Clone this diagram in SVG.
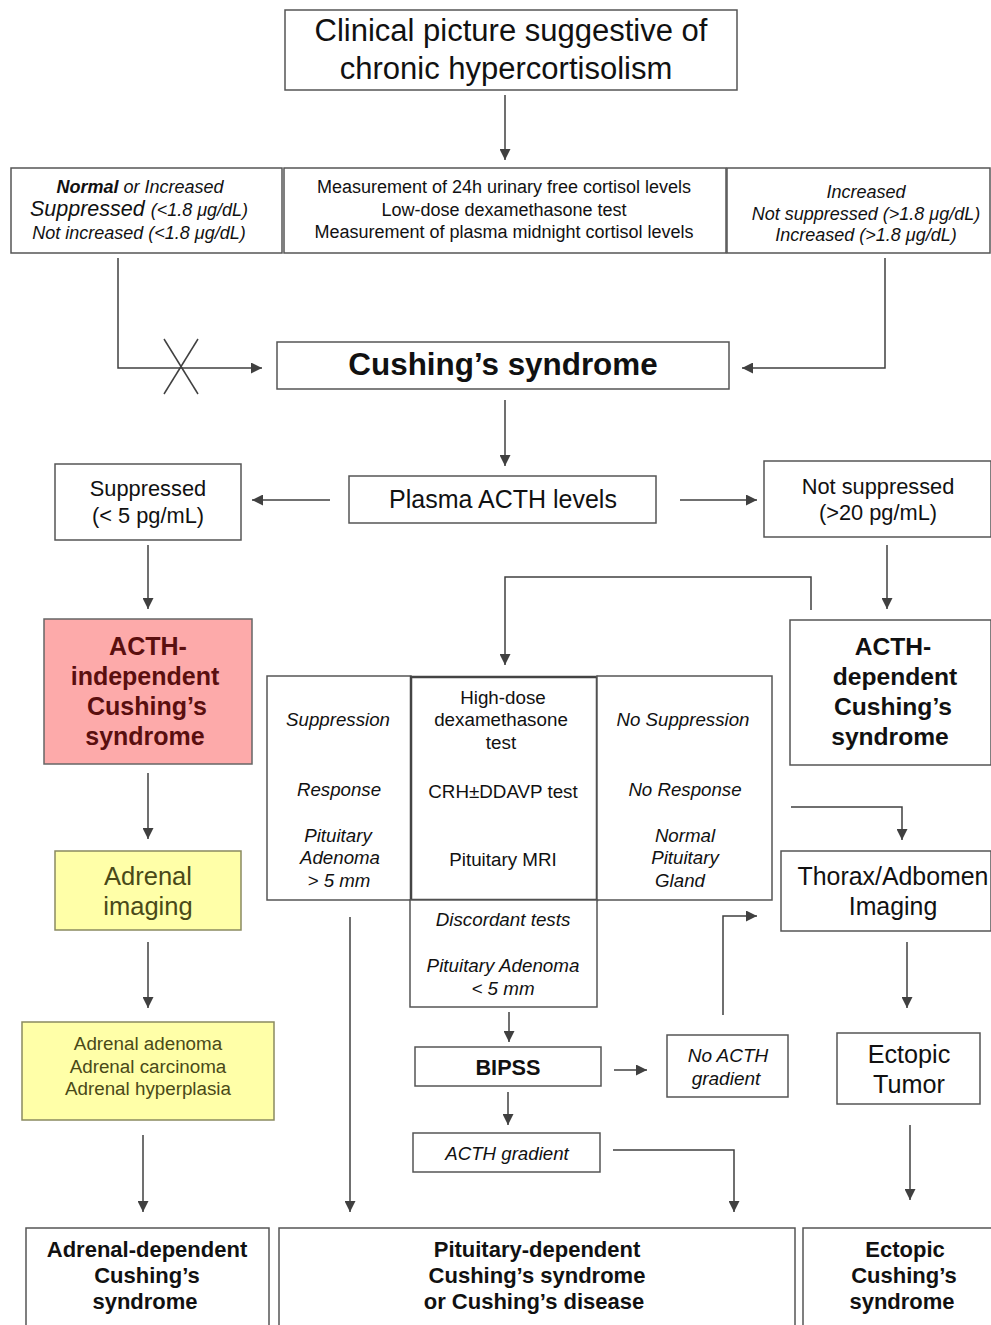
<svg xmlns="http://www.w3.org/2000/svg" width="991" height="1325" viewBox="0 0 991 1325">
<defs>
<marker id="ah" markerUnits="userSpaceOnUse" markerWidth="11" markerHeight="11" refX="10" refY="5" orient="auto" viewBox="0 0 10 10">
<path d="M0,0 L10,5 L0,10 z" fill="#404040"/>
</marker>
</defs>
<style>
text{font-family:"Liberation Sans",Arial,sans-serif;fill:#111;text-anchor:middle}
.box{fill:#fff;stroke:#555;stroke-width:1.5}
.thick{fill:none;stroke:#444;stroke-width:2.5}
.pink{fill:#fdaaaa;stroke:#666;stroke-width:1.5}
.yel{fill:#ffffa8;stroke:#8a8a60;stroke-width:1.5}
.conn path,.conn line{fill:none;stroke:#404040;stroke-width:1.5}
.arr{marker-end:url(#ah)}
.i{font-style:italic}
.b{font-weight:bold}
.red{fill:#5a0f0f}
.olv{fill:#4a4a18}
</style>
<rect width="991" height="1325" fill="#fff"/>

<g id="n-clinical">
<rect class="box" x="285" y="10" width="452" height="80"/>
<text x="511" y="41" font-size="31">Clinical picture suggestive of</text>
<text x="506" y="79" font-size="31">chronic hypercortisolism</text>
</g>

<g id="n-left-results">
<rect class="box" x="11" y="168" width="271" height="85"/>
<text x="140" y="193" font-size="18" class="i"><tspan class="b">Normal</tspan> or Increased</text>
<text x="139" y="216" font-size="21.5" class="i">Suppressed <tspan font-size="18">(&lt;1.8 μg/dL)</tspan></text>
<text x="139" y="239" font-size="18" class="i">Not increased (&lt;1.8 μg/dL)</text>
</g>

<g id="n-tests">
<rect class="box" x="284" y="168" width="442" height="85"/>
<text x="504" y="193" font-size="18">Measurement of 24h urinary free cortisol levels</text>
<text x="504" y="216" font-size="18">Low-dose dexamethasone test</text>
<text x="504" y="238" font-size="18">Measurement of plasma midnight cortisol levels</text>
</g>

<g id="n-right-results">
<rect class="box" x="727" y="168" width="263" height="85"/>
<text x="866" y="198" font-size="18" class="i">Increased</text>
<text x="866" y="220" font-size="18" class="i">Not suppressed (&gt;1.8 μg/dL)</text>
<text x="866" y="241" font-size="18" class="i">Increased (&gt;1.8 μg/dL)</text>
</g>

<g id="n-cushing">
<rect class="box" x="277" y="342" width="452" height="47"/>
<text x="503" y="375" font-size="31.4" class="b">Cushing’s syndrome</text>
</g>

<g id="n-plasma">
<rect class="box" x="349" y="476" width="307" height="47"/>
<text x="503" y="508" font-size="25">Plasma ACTH levels</text>
</g>

<g id="n-suppressed">
<rect class="box" x="55" y="464" width="186" height="76"/>
<text x="148" y="496" font-size="21.8">Suppressed</text>
<text x="148" y="523" font-size="21.8">(&lt; 5 pg/mL)</text>
</g>

<g id="n-notsuppressed">
<rect class="box" x="764" y="461" width="227" height="76"/>
<text x="878" y="494" font-size="21.8">Not suppressed</text>
<text x="878" y="520" font-size="21.8">(&gt;20 pg/mL)</text>
</g>

<g id="n-acth-indep">
<rect class="pink" x="44" y="619" width="208" height="145"/>
<text x="148" y="655" font-size="25" class="b red">ACTH-</text>
<text x="145" y="685" font-size="25" class="b red">independent</text>
<text x="147" y="715" font-size="25" class="b red">Cushing’s</text>
<text x="145" y="745" font-size="25" class="b red">syndrome</text>
</g>

<g id="n-acth-dep">
<rect class="box" x="790" y="620" width="201" height="145"/>
<text x="893" y="655" font-size="24.6" class="b">ACTH-</text>
<text x="895" y="685" font-size="24.6" class="b">dependent</text>
<text x="893" y="715" font-size="24.6" class="b">Cushing’s</text>
<text x="890" y="745" font-size="24.6" class="b">syndrome</text>
</g>

<g id="n-adrenal-imaging">
<rect class="yel" x="55" y="851" width="186" height="79"/>
<text x="148" y="885" font-size="25.5" class="olv">Adrenal</text>
<text x="148" y="915" font-size="25.5" class="olv">imaging</text>
</g>

<g id="n-adrenal-list">
<rect class="yel" x="22" y="1022" width="252" height="98"/>
<text x="148" y="1050" font-size="18.8" class="olv">Adrenal adenoma</text>
<text x="148" y="1073" font-size="18.8" class="olv">Adrenal carcinoma</text>
<text x="148" y="1095" font-size="18.8" class="olv">Adrenal hyperplasia</text>
</g>

<g id="n-pit-left">
<rect class="box" x="267" y="676" width="144" height="224"/>
<text x="338" y="726" font-size="18.7" class="i">Suppression</text>
<text x="339" y="796" font-size="18.7" class="i">Response</text>
<text x="338" y="842" font-size="18.7" class="i">Pituitary</text>
<text x="340" y="864" font-size="18.7" class="i">Adenoma</text>
<text x="339" y="887" font-size="18.7" class="i">&gt; 5 mm</text>
</g>

<g id="n-pit-tests">
<rect class="thick" x="411" y="677" width="186" height="223"/>
<text x="503" y="704" font-size="18.8">High-dose</text>
<text x="501" y="726" font-size="18.8">dexamethasone</text>
<text x="501" y="749" font-size="18.8">test</text>
<text x="503" y="798" font-size="18.8">CRH±DDAVP test</text>
<text x="503" y="866" font-size="18.8">Pituitary MRI</text>
</g>

<g id="n-pit-right">
<rect class="box" x="597" y="676" width="175" height="224"/>
<text x="683" y="726" font-size="18.7" class="i">No Suppression</text>
<text x="685" y="796" font-size="18.7" class="i">No Response</text>
<text x="685" y="842" font-size="18.7" class="i">Normal</text>
<text x="685" y="864" font-size="18.7" class="i">Pituitary</text>
<text x="680" y="887" font-size="18.7" class="i">Gland</text>
</g>

<g id="n-discordant">
<rect class="box" x="410" y="900" width="187" height="107"/>
<text x="503" y="926" font-size="18.8" class="i">Discordant tests</text>
<text x="503" y="972" font-size="18.8" class="i">Pituitary Adenoma</text>
<text x="503" y="995" font-size="18.8" class="i">&lt; 5 mm</text>
</g>

<g id="n-bipss">
<rect class="box" x="415" y="1047" width="186" height="39"/>
<text x="508" y="1075" font-size="21.7" class="b">BIPSS</text>
</g>

<g id="n-noacth">
<rect class="box" x="667" y="1035" width="121" height="62"/>
<text x="728" y="1062" font-size="19" class="i">No ACTH</text>
<text x="726" y="1085" font-size="19" class="i">gradient</text>
</g>

<g id="n-acthgrad">
<rect class="box" x="413" y="1133" width="187" height="39"/>
<text x="507" y="1160" font-size="18.7" class="i">ACTH gradient</text>
</g>

<g id="n-thorax">
<rect class="box" x="781" y="851" width="210" height="80"/>
<text x="893" y="885" font-size="24.9">Thorax/Adbomen</text>
<text x="893" y="915" font-size="24.9">Imaging</text>
</g>

<g id="n-ectopic-tumor">
<rect class="box" x="837" y="1033" width="143" height="71"/>
<text x="909" y="1063" font-size="25.2">Ectopic</text>
<text x="909" y="1093" font-size="25.2">Tumor</text>
</g>

<g id="n-adrenal-dep">
<rect class="box" x="26" y="1228" width="243" height="110"/>
<text x="147" y="1257" font-size="22" class="b">Adrenal-dependent</text>
<text x="147" y="1283" font-size="22" class="b">Cushing’s</text>
<text x="145" y="1309" font-size="22" class="b">syndrome</text>
</g>

<g id="n-pit-dep">
<rect class="box" x="279" y="1228" width="516" height="110"/>
<text x="537" y="1257" font-size="22" class="b">Pituitary-dependent</text>
<text x="537" y="1283" font-size="22" class="b">Cushing’s syndrome</text>
<text x="534" y="1309" font-size="22" class="b">or Cushing’s disease</text>
</g>

<g id="n-ectopic-dep">
<rect class="box" x="803" y="1228" width="200" height="110"/>
<text x="905" y="1257" font-size="22" class="b">Ectopic</text>
<text x="904" y="1283" font-size="22" class="b">Cushing’s</text>
<text x="902" y="1309" font-size="22" class="b">syndrome</text>
</g>

<g id="connectors" class="conn">
<line class="arr" x1="505" y1="95" x2="505" y2="160"/>
<path class="arr" d="M118,258 V368 H262"/>
<line x1="164" y1="339" x2="198" y2="394"/>
<line x1="198" y1="339" x2="164" y2="394"/>
<path class="arr" d="M885,258 V368 H742"/>
<line class="arr" x1="505" y1="400" x2="505" y2="466"/>
<line class="arr" x1="330" y1="500" x2="252" y2="500"/>
<line class="arr" x1="680" y1="500" x2="757" y2="500"/>
<line class="arr" x1="148" y1="545" x2="148" y2="609"/>
<line class="arr" x1="887" y1="545" x2="887" y2="609"/>
<path class="arr" d="M811,610 V577 H505 V665"/>
<line class="arr" x1="148" y1="773" x2="148" y2="839"/>
<line class="arr" x1="148" y1="942" x2="148" y2="1008"/>
<line class="arr" x1="143" y1="1135" x2="143" y2="1212"/>
<line class="arr" x1="350" y1="917" x2="350" y2="1212"/>
<line class="arr" x1="509" y1="1012" x2="509" y2="1042"/>
<line class="arr" x1="614" y1="1070" x2="647" y2="1070"/>
<path class="arr" d="M723,1015 V916 H757"/>
<line class="arr" x1="508" y1="1092" x2="508" y2="1125"/>
<path class="arr" d="M613,1150 H734 V1212"/>
<path class="arr" d="M791,807 H902 V840"/>
<line class="arr" x1="907" y1="942" x2="907" y2="1008"/>
<line class="arr" x1="910" y1="1125" x2="910" y2="1200"/>
</g>
</svg>
